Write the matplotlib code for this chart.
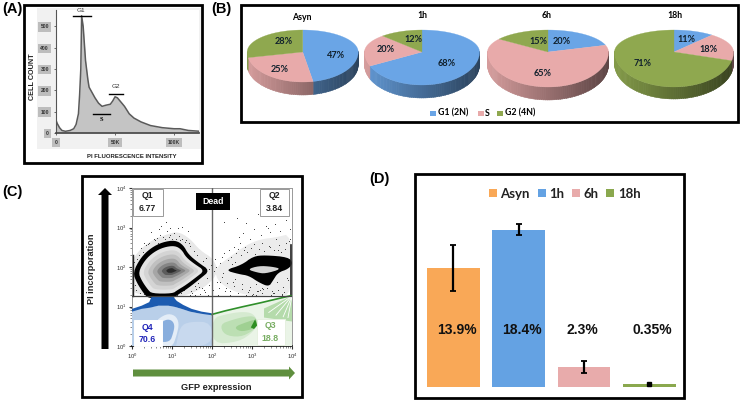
import numpy as np
import matplotlib
matplotlib.use('Agg')
import matplotlib.pyplot as plt
from matplotlib.patches import Rectangle, FancyArrow
from matplotlib.ticker import LogLocator, NullFormatter

W, H = 740, 400

# (A) histogram
hist_x = [0, 1, 3, 5, 8, 12, 15, 17, 19, 20, 21, 21.7, 23, 24, 25, 27, 28, 30, 33, 36, 39, 42, 46, 48, 50,
          52, 55, 58, 62, 66, 72, 80, 90, 100, 105, 112, 122]
hist_y = [60, 45, 25, 12, 8, 12, 20, 40, 90, 180, 300, 550, 500, 420, 340, 250, 215, 195, 165, 140, 125, 130,
          135, 150, 170, 165, 145, 125, 90, 70, 52, 35, 25, 20, 20, 12, 8]
hist_yticks = [0, 100, 200, 300, 400, 500]
hist_xticks = [0, 50, 100]
hist_xlabels = ['0', '50K', '100K']

# (B) pies
pie_names = ['Asyn', '1h', '6h', '18h']
pie_g1 = [47, 68, 20, 11]
pie_s = [25, 20, 65, 18]
pie_g2 = [28, 12, 15, 71]
phase_names = ['G1 (2N)', 'S', 'G2 (4N)']
phase_colors = ['#6aa5e6', '#e8aaaa', '#8fa84f']

# (C) flow plot outlines, in decades
q1_x = [.02, .22, .47, .76, 1.08, 1.28, 1.41, 1.66, 1.95, 1.70, 1.40, 1.15, 1.02, .42, .30, .12]
q1_y = [1.86, 2.24, 2.48, 2.63, 2.68, 2.56, 2.32, 2.11, 1.91, 1.70, 1.46, 1.30, 1.20, 1.20, 1.32, 1.60]
q2_x = [2.32, 2.74, 3.03, 3.33, 3.91, 4.02, 3.91, 3.65, 3.52, 3.42, 3.17, 2.92, 2.67]
q2_y = [1.92, 2.05, 2.27, 2.30, 2.25, 2.10, 1.95, 1.86, 1.65, 1.50, 1.61, 1.78, 1.82]
q2_in_x = [2.88, 3.17, 3.50, 3.74, 3.33, 3.13]
q2_in_y = [1.94, 2.03, 2.01, 1.95, 1.83, 1.86]
halo1_x = [-.05, .2, .5, .85, 1.15, 1.45, 1.7, 2.05, 2.15, 1.9, 1.6, 1.3, 1.1, .3, -.05]
halo1_y = [2.1, 2.45, 2.68, 2.82, 2.9, 2.72, 2.42, 2.2, 1.85, 1.55, 1.38, 1.27, 1.27, 1.27, 1.4]
halo2_x = [2.1, 2.5, 2.85, 3.2, 3.6, 4.0, 4.0, 3.6, 3.2, 2.8, 2.4, 2.1]
halo2_y = [2.0, 2.3, 2.55, 2.7, 2.75, 2.85, 1.27, 1.3, 1.27, 1.3, 1.45, 1.7]
band_x = [0, .24, .43, .49, 1.03, 1.12, 1.28, 1.49, 1.74, 1.99, 1.99, 1.70, 1.45, 1.24, 1.07, .91, .66, .45, .24, 0]
band_y = [.94, 1.02, 1.11, 1.25, 1.25, 1.14, 1.04, .94, .87, .83, .78, .82, .87, .94, .99, 1.02, 1.02, .97, .94, .87]
blue_x = [0, .24, .45, .66, .91, 1.07, 1.24, 1.45, 1.70, 2, 2, 0]
blue_y = [.90, .95, .98, 1.02, 1.02, .99, .94, .87, .82, .80, 0, 0]
blue_pale_x = [1.1, 1.2, 1.45, 2, 2, 1.1]
blue_pale_y = [0, .5, .62, .6, 0, 0]
blue2_x = [.55, .85, 1.08, 1.18, 1.12, 1.0, .55]
blue2_y = [.6, .82, .78, .58, .28, -.05, -.05]
green_x = [2, 2.33, 2.75, 3.24, 3.74, 3.95, 4, 4, 2]
green_y = [.80, .89, .99, 1.10, 1.22, 1.27, 1.27, 0, 0]
green2_x = [2.01, 2.33, 2.74, 3.03, 3.15, 3.03, 2.66, 2.01]
green2_y = [.70, .80, .87, .83, .6, .35, .10, .05]
green3_x = [2.2, 2.5, 2.8, 3.08, 3.15, 3.02, 2.7, 2.3]
green3_y = [.55, .66, .74, .76, .55, .38, .22, .28]
green4_x = [2.55, 2.85, 3.1, 3.13, 3.0, 2.7]
green4_y = [.48, .6, .68, .52, .42, .36]
green5_x = [2.97, 3.08, 3.13, 3.05]
green5_y = [.47, .68, .52, .43]
fan_x = [3.3, 3.3, 4, 4]
fan_y = [.95, .72, .62, 1.27]
streak_x = [3.42, 3.6, 3.78, 3.9]
streak_y = [.85, .78, .74, .72]
speck_x = [.12, .18, .05, .28, .36, .22, .42, .55, .31, .62, .70, .78, .95, 1.05, 1.18, 1.26, 1.42, 1.35, 1.55, 1.62,
           1.78, 1.84, 1.92, 1.71, 1.97, 2.05, 1.88, 2.12, 2.21, 2.08, 2.30, 1.58, 1.66, 1.48, 1.75, 1.82, 1.93, 2.02,
           .10, .20, .08, .25, .15, .30, .60, .76, 1.12, 1.22, 1.30, 1.45, 1.60, 1.70, 1.52, 1.38, .88, .68,
           2.25, 2.38, 2.45, 2.56, 2.66, 2.74, 2.85, 2.92, 3.02, 3.12, 3.25, 3.38, 3.50, 3.62, 3.78, 3.90, 2.34, 2.52,
           2.48, 2.60, 2.72, 2.80, 2.88, 2.98, 3.08, 3.18, 3.30, 3.42, 3.55, 3.68, 3.72, 3.84, 3.94, 2.40, 2.55, 2.70,
           2.68, 2.78, 2.95, 3.05, 3.22, 3.35, 3.46, 3.58, 3.70, 3.85, 3.92, 2.62, 2.84, 3.15, 3.40, 3.60,
           2.20, 2.32, 2.44, 2.58, 2.76, 2.90, 3.10, 3.28, 3.52, 3.75, 3.88, 2.15, 2.28, 2.50, 3.00, 3.20,
           .72, .95, 1.15, 1.40, .48, .85, 1.25, 2.58, 2.90, 3.32, 3.64, 3.80, 3.95, 3.48, 3.10, 2.30,
           .40, .58, .66, .82, .92, 1.0, 1.1, 1.2, 1.32, 1.44, 1.5, 1.58, 1.68, 1.8, 1.9, 2.0, 2.1, 2.18,
           2.26, 2.42, 2.64, 2.82, 3.04, 3.24, 3.44, 3.66, 3.82, 2.46, 2.94, 3.36, 3.56, 3.76, 3.14, 3.26]
speck_y = [2.20, 2.30, 2.12, 2.38, 2.55, 2.48, 2.62, 2.70, 2.60, 2.74, 2.80, 2.75, 2.82, 2.86, 2.78, 2.72, 2.62, 2.68,
           2.40, 2.30, 2.15, 2.22, 1.95, 2.02, 2.05, 1.90, 1.72, 1.62, 2.10, 2.20, 2.35, 1.52, 1.60, 1.38, 1.48, 1.36,
           1.55, 1.42, 1.42, 1.33, 1.55, 1.48, 1.72, 1.32, 1.30, 1.29, 1.30, 1.34, 1.42, 1.30, 1.44, 1.32, 1.62, 1.55,
           2.90, 2.95, 1.75, 1.60, 1.40, 1.52, 1.35, 1.45, 1.30, 1.42, 1.32, 1.38, 1.35, 1.48, 1.40, 1.62, 1.50, 1.68,
           1.48, 1.62, 2.25, 2.35, 2.30, 2.42, 2.38, 2.48, 2.34, 2.46, 2.40, 2.52, 2.44, 2.56, 2.38, 2.62, 2.70, 2.18,
           2.50, 2.60, 2.75, 2.85, 2.70, 2.95, 2.80, 3.05, 2.88, 3.10, 2.92, 3.20, 2.66, 3.25, 3.12, 3.35, 3.00, 2.72,
           1.62, 1.38, 1.30, 1.70, 1.58, 1.36, 1.56, 1.44, 1.34, 1.30, 1.72, 1.30, 1.85, 2.08, 1.30, 1.42,
           3.05, 2.98, 3.00, 2.92, 2.88, 3.15, 3.02, 2.12, 2.18, 1.70, 1.42, 1.36, 2.95, 1.28, 1.30, 3.15,
           2.58, 2.68, 2.60, 2.70, 2.76, 2.72, 2.70, 2.68, 2.64, 2.52, 1.34, 1.28, 1.50, 1.42, 1.30, 1.78, 2.00, 1.48,
           2.26, 2.42, 2.46, 2.50, 2.58, 2.60, 2.50, 2.44, 2.46, 1.38, 1.50, 1.60, 1.34, 1.32, 1.40, 1.46]
q_labels = ['Q1', 'Q2', 'Q4', 'Q3']
q_values = ['6.77', '3.84', '70.6', '18.8']

# (D) bars
bar_names = ['Asyn', '1h', '6h', '18h']
bar_values = [13.9, 18.4, 2.3, 0.35]
bar_errors = [2.73, 0.66, 0.74, 0.1]
bar_colors = ['#f9a857', '#64a2e3', '#e8abab', '#8aa84e']


def ax_px(x0, y0, x1, y1, **kw):
    return fig.add_axes([x0 / W, 1 - y1 / H, (x1 - x0) / W, (y1 - y0) / H], **kw)


def dec(xs, ys):
    return 10 ** np.array(xs), 10 ** np.array(ys)


def shrink(xs, ys, cx, cy, kx, ky=None):
    ky = kx if ky is None else ky
    return cx + (np.array(xs) - cx) * kx, cy + (np.array(ys) - cy) * ky


def rounded(xs, ys, n=2):
    # corner cutting, just so the outlines are not faceted
    p = np.column_stack([xs, ys])
    for _ in range(n):
        q = np.roll(p, -1, axis=0)
        p = np.column_stack([.75 * p + .25 * q, .25 * p + .75 * q]).reshape(-1, 2)
    return p[:, 0], p[:, 1]


def shade(c, k):
    return tuple(np.array(matplotlib.colors.to_rgb(c)) * k)


def draw_pie(ax, vals, cx, rx, top, cy, bot, depth):
    ends = np.cumsum(vals) / 100 * 2 * np.pi
    starts = np.r_[0, ends[:-1]]

    def pt(t):
        ry = np.where(np.cos(t) > 0, cy - top, bot - cy)
        return cx + rx * np.sin(t), cy - ry * np.cos(t)

    for a, b, col in zip(starts, ends, phase_colors):
        for t in np.arange(a, b, np.radians(2)):
            if np.cos(t) > 0.02 and np.cos(t + np.radians(2)) > 0.02:
                continue
            x0, y0 = pt(t)
            x1, y1 = pt(min(t + np.radians(2.5), b))
            k = 0.66 - 0.26 * np.sin(t)
            ax.fill([x0, x1, x1, x0], [y0, y1, y1 + depth, y0 + depth], color=shade(col, k), lw=0.3, zorder=3)
    for a, b, col in zip(starts, ends, phase_colors):
        t = np.linspace(a, b, 90)
        x, y = pt(t)
        ax.fill(np.r_[cx, x], np.r_[cy, y], color=col, lw=0.2, zorder=4)


fig = plt.figure(figsize=(7.4, 4), dpi=100)
plt.rcParams['font.family'] = ['Liberation Sans', 'DejaVu Sans']

back = ax_px(0, 0, W, H, zorder=0)
back.set_xlim(0, W)
back.set_ylim(H, 0)
back.axis('off')
back.add_patch(Rectangle((37, 8), 164, 141, color='#f1f1f1', lw=0))

over = ax_px(0, 0, W, H, zorder=10)
over.set_xlim(0, W)
over.set_ylim(H, 0)
over.axis('off')

# frames
for x0, y0, x1, y1 in [(23.5, 5, 202, 163), (240.5, 4.5, 738, 122), (82, 175.5, 302, 397), (414.5, 174, 684, 398)]:
    over.add_patch(Rectangle((x0, y0), x1 - x0, y1 - y0, fill=False, ec='black', lw=2.0))
for txt, x, y in [('(A)', 2, 9), ('(B)', 211, 9), ('(C)', 2, 192), ('(D)', 369, 179)]:
    over.text(x, y, txt, fontsize=10.5, fontweight='bold', va='center', ha='left')

# panel A
a = ax_px(56, 10, 199.5, 133, zorder=2)
a.fill_between(hist_x, hist_y, color='#c4c4c4', lw=0)
a.plot(hist_x, hist_y, color='#5a5a5a', lw=1.1)
a.set_xlim(0, 121.5)
a.set_ylim(0, 577)
for s in ['top', 'right']:
    a.spines[s].set_visible(False)
a.spines['left'].set_color('#555555')
a.spines['bottom'].set_color('#444444')
a.spines['bottom'].set_linewidth(1.2)
a.set_yticks(hist_yticks)
a.set_xticks(hist_xticks)
a.set_xticklabels(hist_xlabels)
a.tick_params(length=1.5, width=0.5, labelsize=3.6, pad=3.5, colors='#333333')
for t in a.get_xticklabels() + a.get_yticklabels():
    t.set_fontweight('bold')
    t.set_bbox(dict(facecolor='#bdbdbd', edgecolor='none', pad=1.6))
a.plot([14, 30], [551, 551], color='black', lw=1)
a.plot([45, 56.5], [184, 184], color='black', lw=1)
a.plot([31, 46], [88, 88], color='black', lw=1)
a.text(21.5, 565, 'G1', fontsize=4.6, ha='center', va='bottom', color='#333333', clip_on=False)
a.text(50.5, 205, 'G2', fontsize=4.6, ha='center', va='bottom', color='#333333')
a.text(38.5, 64, 'S', fontsize=4.6, ha='center', va='center', fontweight='bold', family='Liberation Serif')
over.text(32, 77, 'CELL COUNT', rotation=90, fontsize=5.2, fontweight='bold', ha='center', va='center', color='#222222')
over.text(132, 156, 'PI FLUORESCENCE INTENSITY', fontsize=4.3, fontweight='bold', ha='center', va='center', color='#222222')

# panel B
pie_geom = [(302.7, 55.5, 30, 52, 82, 13), (422, 57.5, 30, 52, 85, 13),
            (548, 60.5, 30, 52, 87, 13), (674, 59.5, 30, 52, 87, 12)]
title_pos = [(302, 17), (422, 15), (547, 16), (675, 16)]
pct_pos = [[(336, 56), (280, 70), (284, 42)], [(447, 63), (386, 50), (413, 39)],
           [(562, 42), (543, 73), (538, 41)], [(686, 39), (709, 49), (643, 64)]]
for i, name in enumerate(pie_names):
    vals = [pie_g1[i], pie_s[i], pie_g2[i]]
    draw_pie(over, vals, *pie_geom[i])
    over.text(title_pos[i][0], title_pos[i][1], name, fontsize=6.3, fontweight='bold', family='Lato',
              ha='center', va='center')
    for v, (x, y) in zip(vals, pct_pos[i]):
        over.text(x, y, f'{v}%', fontsize=6.6, fontweight='bold', family='Lato', ha='center', va='center',
                  color='#10202c', zorder=6)
for name, col, xs, xt in zip(phase_names, phase_colors, [430, 478, 497], [437.5, 485, 505]):
    over.add_patch(Rectangle((xs, 110.5), 5.5, 5.5, color=col, lw=0))
    over.text(xt, 113, name, fontsize=6.3, fontweight='bold', family='Lato', va='center', ha='left')

# panel C
c = ax_px(132, 188, 292, 346, zorder=2)
c.set_xscale('log')
c.set_yscale('log')
c.set_xlim(1, 1e4)
c.set_ylim(1, 1e4)
c.fill(*dec(*rounded(halo1_x, halo1_y)), color='#e8e8e8', lw=0, zorder=1)
c.fill(*dec(*rounded(halo2_x, halo2_y)), color='#ececec', lw=0, zorder=1)
c.scatter(*dec(speck_x, speck_y), s=0.45, color='#333333', lw=0, zorder=1.5)
blob_x, blob_y = rounded(q1_x, q1_y)
c.fill(*dec(blob_x, blob_y), color='black', lw=0, zorder=2)
grays = ['#e4e4e4', '#d4d4d4', '#c0c0c0', '#a6a6a6', '#858585', '#5c5c5c', '#2c2c2c']
sizes_x = [.86, .74, .62, .50, .38, .26, .14]
sizes_y = [.82, .68, .54, .40, .27, .16, .08]
for col, kx, ky in zip(grays, sizes_x, sizes_y):
    xs, ys = shrink(blob_x, blob_y, .99, 1.91, kx, ky)
    c.fill(*dec(xs, ys), color=col, lw=0, zorder=3)
c.fill(*dec(*rounded(q2_x, q2_y)), color='black', lw=0, zorder=2)
c.fill(*dec(*rounded(q2_in_x, q2_in_y)), color='#d4d4d4', lw=0, zorder=3)
c.plot(*dec([0.02, 0.02], [1.27, 2.3]), color='#222222', lw=1, zorder=3)
c.plot(*dec([3.98, 3.98], [1.27, 2.55]), color='#222222', lw=1.2, zorder=3)
c.fill(*dec(blue_x, blue_y), color='#b9cfe9', lw=0, zorder=3)
c.fill(*dec(*rounded(blue_pale_x, blue_pale_y)), color='#c8d9ee', lw=0, zorder=3)
c.fill(*dec(*rounded(blue2_x, blue2_y)), color='#e4edf7', lw=0, zorder=3)
xs, ys = shrink(blue2_x, blue2_y, .85, .4, .66)
c.fill(*dec(*rounded(xs, ys)), color='#89aedd', lw=0, zorder=3)
c.fill(*dec(band_x, band_y), color='#1c5bb0', lw=0, zorder=4)
c.fill(*dec(green_x, green_y), color='#eaf4e7', lw=0, zorder=3)
c.fill(*dec(*rounded(green2_x, green2_y)), color='#d5ead0', lw=0, zorder=3)
c.fill(*dec(*rounded(green3_x, green3_y)), color='#bcdfb3', lw=0, zorder=3)
c.fill(*dec(*rounded(green4_x, green4_y)), color='#9fd092', lw=0, zorder=3)
c.fill(*dec(green5_x, green5_y), color='#2e8f22', lw=0, zorder=3)
c.fill(*dec(fan_x, fan_y), color='#b5dbab', lw=0, zorder=3)
for fx, fy in zip(streak_x, streak_y):
    c.plot(*dec([4, fx], [1.27, fy]), color='white', lw=0.6, zorder=3)
c.plot(*dec(green_x[:7], green_y[:7]), color='#2f8f2a', lw=1.2, zorder=4)
c.axvline(100, color='#666666', lw=1, zorder=5)
c.axhline(18.4, color='#444444', lw=0.9, zorder=5)
for s in ['top', 'left', 'right']:
    c.spines[s].set_color('#999999')
    c.spines[s].set_linewidth(0.7)
c.spines['bottom'].set_linewidth(1.1)
for axis in (c.xaxis, c.yaxis):
    axis.set_major_locator(LogLocator(base=10, numticks=6))
    axis.set_minor_locator(LogLocator(base=10, subs=range(2, 10), numticks=6))
    axis.set_minor_formatter(NullFormatter())
c.tick_params(which='major', length=2.5, width=0.8, labelsize=4.2, pad=1.5, colors='#333333')
c.tick_params(which='minor', length=1.3, width=0.4, colors='#333333')

over.add_patch(FancyArrow(105, 349, 0, -161, width=7, head_width=14, head_length=7,
                          length_includes_head=True, color='black', lw=0))
over.add_patch(FancyArrow(133, 373, 162, 0, width=7, head_width=13, head_length=6,
                          length_includes_head=True, color='#5f8f3e', lw=0))
over.text(92, 269, 'PI incorporation', rotation=90, fontsize=6.6, fontweight='bold', ha='center', va='center',
          color='#222222')
over.text(216, 388, 'GFP expression', fontsize=6.7, fontweight='bold', ha='center', va='center', color='#222222')
q_boxes = [(132.7, 188.5, 30, 27), (260, 188.5, 28.5, 27), (133.5, 320, 28, 26), (256.5, 318.5, 28, 26.5)]
q_edges = ['#999999', '#999999', 'white', '#e6f0e0']
q_text = ['#222222', '#222222', '#1f22b8', '#78ad62']
for (x, y, w, h), lab, val, ec, tc in zip(q_boxes, q_labels, q_values, q_edges, q_text):
    over.add_patch(Rectangle((x, y), w, h, fc='white', ec=ec, lw=0.7))
    over.text(x + w / 2, y + 7.5, lab, fontsize=6.3, fontweight='bold', ha='center', va='center', color=tc)
    over.text(x + w / 2, y + 20, val, fontsize=6.3, fontweight='bold', ha='center', va='center', color=tc)
over.add_patch(Rectangle((195.7, 193.3), 34.5, 17, color='black', lw=0))
over.text(213, 202, 'Dead', fontsize=6.3, fontweight='bold', color='white', ha='center', va='center')

# panel D
d = ax_px(415, 175, 684, 397, zorder=2)
pos = np.arange(len(bar_values))
d.bar(pos, bar_values, width=0.81, color=bar_colors)
d.errorbar(pos[:3], bar_values[:3], yerr=bar_errors[:3], fmt='none', ecolor='black', elinewidth=1.6,
           capsize=2, capthick=1.3)
d.errorbar(pos[3:], bar_values[3:], yerr=bar_errors[3:], fmt='s', color='black', ms=3.2, ecolor='black')
d.set_xlim(-0.587, 3.53)
d.set_ylim(-1.2, 24.8)
d.axis('off')
label_x = [.05, .05, -.03, .04]
for p, v, dx in zip(pos, bar_values, label_x):
    d.text(p + dx, 6.7, f'{v}%', fontsize=10, fontweight='bold', ha='center', va='center', color='#111111')
leg_sq = [488.5, 538, 571.5, 606]
leg_tx = [500, 549, 583, 618]
for name, col, xs, xt in zip(bar_names, bar_colors, leg_sq, leg_tx):
    over.add_patch(Rectangle((xs, 189), 8, 8, color=col, lw=0))
    over.text(xt, 194, name, fontsize=9.5, fontweight='bold', family='Lato', va='center', ha='left', color='#222222')

fig.savefig('out.png', dpi=100)
